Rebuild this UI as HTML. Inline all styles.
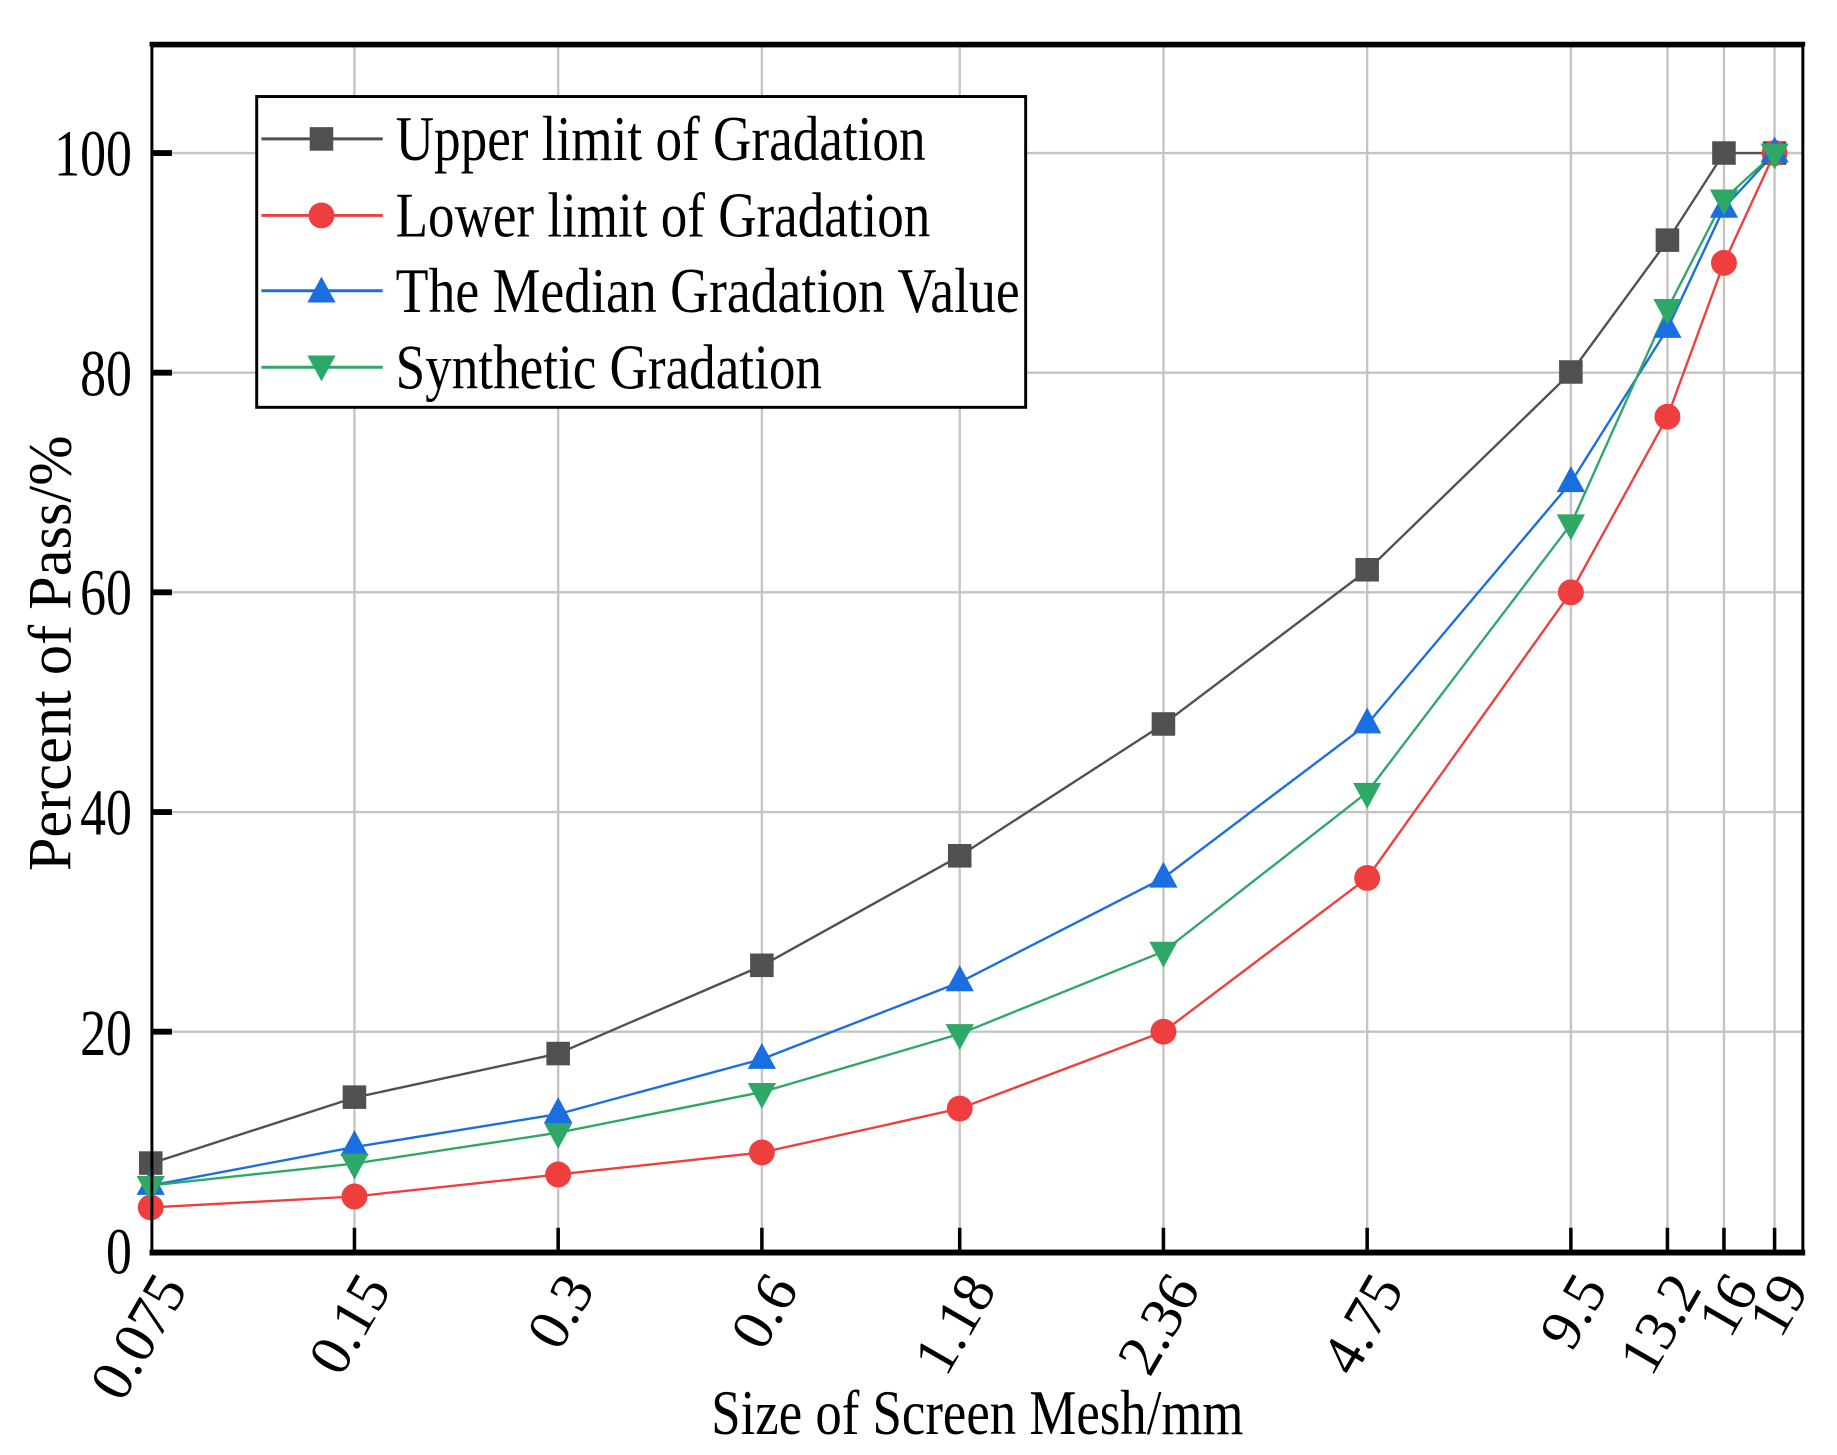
<!DOCTYPE html>
<html><head><meta charset="utf-8"><style>html,body{margin:0;padding:0;background:#fff}svg{display:block}</style></head><body>
<svg width="1837" height="1455" viewBox="0 0 1560 1236" preserveAspectRatio="none" xmlns="http://www.w3.org/2000/svg" font-family="'Liberation Serif', serif">
<rect width="1560" height="1236" fill="#fff"/>
<g stroke="#c4c4c4" stroke-width="2">
<line x1="301" y1="38" x2="301" y2="1063"/><line x1="474" y1="38" x2="474" y2="1063"/><line x1="647" y1="38" x2="647" y2="1063"/><line x1="815" y1="38" x2="815" y2="1063"/><line x1="988" y1="38" x2="988" y2="1063"/><line x1="1161" y1="38" x2="1161" y2="1063"/><line x1="1334" y1="38" x2="1334" y2="1063"/><line x1="1416" y1="38" x2="1416" y2="1063"/><line x1="1464" y1="38" x2="1464" y2="1063"/><line x1="1507" y1="38" x2="1507" y2="1063"/>
<line x1="128" y1="130" x2="1532" y2="130"/><line x1="128" y1="316.6" x2="1532" y2="316.6"/><line x1="128" y1="503.2" x2="1532" y2="503.2"/><line x1="128" y1="689.8" x2="1532" y2="689.8"/><line x1="128" y1="876.4" x2="1532" y2="876.4"/>
</g>
<g stroke="#000" stroke-width="3">
<line x1="301" y1="1063" x2="301" y2="1043"/><line x1="474" y1="1063" x2="474" y2="1043"/><line x1="647" y1="1063" x2="647" y2="1043"/><line x1="815" y1="1063" x2="815" y2="1043"/><line x1="988" y1="1063" x2="988" y2="1043"/><line x1="1161" y1="1063" x2="1161" y2="1043"/><line x1="1334" y1="1063" x2="1334" y2="1043"/><line x1="1416" y1="1063" x2="1416" y2="1043"/><line x1="1464" y1="1063" x2="1464" y2="1043"/><line x1="1507" y1="1063" x2="1507" y2="1043"/>
<line x1="128" y1="130" x2="146" y2="130" stroke-width="5"/><line x1="128" y1="316.6" x2="146" y2="316.6" stroke-width="5"/><line x1="128" y1="503.2" x2="146" y2="503.2" stroke-width="5"/><line x1="128" y1="689.8" x2="146" y2="689.8" stroke-width="5"/><line x1="128" y1="876.4" x2="146" y2="876.4" stroke-width="5"/>
</g>
<polyline fill="none" stroke="#505050" stroke-width="2" points="128,988.4 301,932.4 474,895 647,820.4 815,727.1 988,615.2 1161,484.6 1334,316.6 1416,204.6 1464,130 1507,130"/>
<polyline fill="none" stroke="#ee3e3e" stroke-width="2" points="128,1025.7 301,1016.4 474,997.7 647,979 815,941.7 988,876.4 1161,745.8 1334,503.2 1416,354 1464,223.3 1507,130"/>
<polyline fill="none" stroke="#1a6ee0" stroke-width="2" points="128,1007 301,974.4 474,946.4 647,899.7 815,834.4 988,745.8 1161,615.2 1334,409.9 1416,279.3 1464,176.7 1507,130"/>
<polyline fill="none" stroke="#2ea866" stroke-width="2" points="128,1007 301,988.4 474,962.2 647,927.7 815,878.3 988,808.3 1161,673 1334,445.4 1416,262.5 1464,169.2 1507,130"/>
<g fill="#505050">
<rect x="118" y="978" width="20" height="20"/><rect x="291" y="922" width="20" height="20"/><rect x="464" y="885" width="20" height="20"/><rect x="637" y="810" width="20" height="20"/><rect x="805" y="717" width="20" height="20"/><rect x="978" y="605" width="20" height="20"/><rect x="1151" y="474" width="20" height="20"/><rect x="1324" y="306" width="20" height="20"/><rect x="1406" y="194" width="20" height="20"/><rect x="1454" y="120" width="20" height="20"/><rect x="1497" y="120" width="20" height="20"/>
</g>
<g fill="#ee3e3e">
<circle cx="128" cy="1025.7" r="11"/><circle cx="301" cy="1016.4" r="11"/><circle cx="474" cy="997.7" r="11"/><circle cx="647" cy="979" r="11"/><circle cx="815" cy="941.7" r="11"/><circle cx="988" cy="876.4" r="11"/><circle cx="1161" cy="745.8" r="11"/><circle cx="1334" cy="503.2" r="11"/><circle cx="1416" cy="354" r="11"/><circle cx="1464" cy="223.3" r="11"/><circle cx="1507" cy="130" r="11"/>
</g>
<g fill="#1a6ee0">
<path d="M128,993 l-12,22 h24z M301,960 l-12,22 h24z M474,932 l-12,22 h24z M647,886 l-12,22 h24z M815,820 l-12,22 h24z M988,732 l-12,22 h24z M1161,601 l-12,22 h24z M1334,396 l-12,22 h24z M1416,265 l-12,22 h24z M1464,163 l-12,22 h24z M1507,116 l-12,22 h24z"/>
</g>
<g fill="#2ea866">
<path d="M128,1021 l-12,-22 h24z M301,1002 l-12,-22 h24z M474,976 l-12,-22 h24z M647,942 l-12,-22 h24z M815,892 l-12,-22 h24z M988,822 l-12,-22 h24z M1161,687 l-12,-22 h24z M1334,459 l-12,-22 h24z M1416,276 l-12,-22 h24z M1464,183 l-12,-22 h24z M1507,144 l-12,-22 h24z"/>
</g>
<rect x="129" y="39" width="1402" height="1024" fill="none" stroke="#000" stroke-width="2.5"/>
<line x1="127" y1="37.5" x2="1533" y2="37.5" stroke="#000" stroke-width="4"/>
<line x1="127" y1="1064" x2="1533" y2="1064" stroke="#000" stroke-width="5"/>
<rect x="218" y="82" width="653" height="264" fill="#fff" stroke="#000" stroke-width="2.5"/>
<g stroke-width="2.5">
<line x1="222" y1="118" x2="325" y2="118" stroke="#505050"/><rect x="263" y="108" width="20" height="20" fill="#505050"/>
<line x1="222" y1="183" x2="325" y2="183" stroke="#ee3e3e"/><circle cx="273" cy="183" r="11" fill="#ee3e3e"/>
<line x1="222" y1="247" x2="325" y2="247" stroke="#1a6ee0"/><path d="M273,235 l-12,22 h24z" fill="#1a6ee0"/>
<line x1="222" y1="312" x2="325" y2="312" stroke="#2ea866"/><path d="M273,324 l-12,-22 h24z" fill="#2ea866"/>
</g>
<g font-size="54" fill="#000">
<text x="336" y="136" textLength="450" lengthAdjust="spacingAndGlyphs">Upper limit of Gradation</text>
<text x="336" y="201" textLength="454" lengthAdjust="spacingAndGlyphs">Lower limit of Gradation</text>
<text x="336" y="265" textLength="530" lengthAdjust="spacingAndGlyphs">The Median Gradation Value</text>
<text x="336" y="330" textLength="362" lengthAdjust="spacingAndGlyphs">Synthetic Gradation</text>
</g>
<g font-size="56" fill="#000">
<text x="46" y="149" textLength="66" lengthAdjust="spacingAndGlyphs">100</text>
<text x="68" y="336" textLength="44" lengthAdjust="spacingAndGlyphs">80</text>
<text x="68" y="522" textLength="44" lengthAdjust="spacingAndGlyphs">60</text>
<text x="68" y="709" textLength="44" lengthAdjust="spacingAndGlyphs">40</text>
<text x="68" y="896" textLength="44" lengthAdjust="spacingAndGlyphs">20</text>
<text x="90" y="1082" textLength="22" lengthAdjust="spacingAndGlyphs">0</text>
</g>
<text transform="translate(60,555) rotate(-90)" font-size="52" text-anchor="middle" textLength="370" lengthAdjust="spacingAndGlyphs">Percent of Pass/%</text>
<g font-size="50" text-anchor="end" fill="#000">
<text transform="translate(160,1095) rotate(-60)">0.075</text>
<text transform="translate(333,1095) rotate(-60)">0.15</text>
<text transform="translate(506,1095) rotate(-60)">0.3</text>
<text transform="translate(679,1095) rotate(-60)">0.6</text>
<text transform="translate(847,1095) rotate(-60)">1.18</text>
<text transform="translate(1020,1095) rotate(-60)">2.36</text>
<text transform="translate(1193,1095) rotate(-60)">4.75</text>
<text transform="translate(1366,1095) rotate(-60)">9.5</text>
<text transform="translate(1446,1095) rotate(-60)">13.2</text>
<text transform="translate(1494,1095) rotate(-60)">16</text>
<text transform="translate(1537,1095) rotate(-60)">19</text>
</g>
<text x="830" y="1218" font-size="54" text-anchor="middle" textLength="452" lengthAdjust="spacingAndGlyphs">Size of Screen Mesh/mm</text>
</svg>
</body></html>
